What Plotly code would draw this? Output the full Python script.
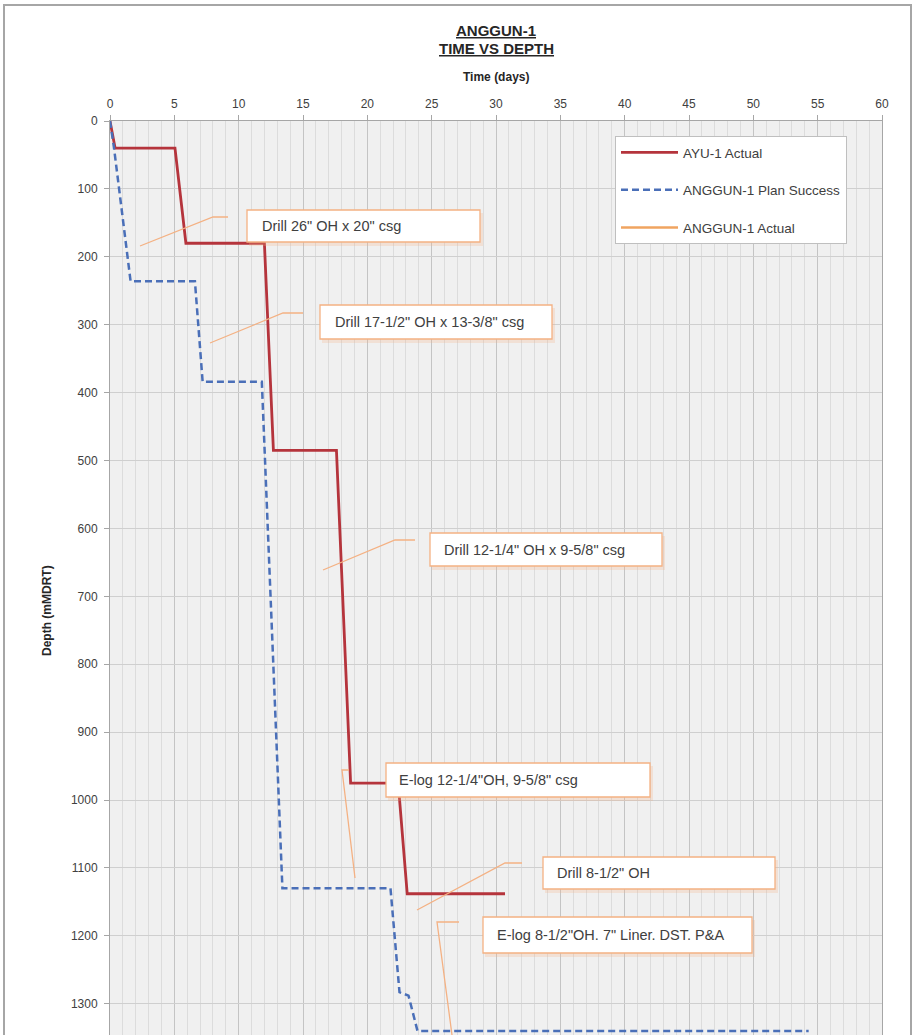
import plotly.graph_objects as go

# ---------------- data ----------------
ayu_days = [0, 0.4, 5.05, 5.9, 12.0, 12.7, 17.6, 18.7, 22.4, 23.1, 30.7]
ayu_depth = [0, 40, 40, 180, 180, 485, 485, 975, 975, 1138, 1138]

plan_days = [0, 0.3, 1.6, 6.6, 7.2, 11.8, 13.4, 21.8, 22.5, 23.2, 23.9, 54.3]
plan_depth = [0, 38, 236, 236, 384, 384, 1130, 1130, 1283, 1288, 1340, 1340]

anggun_days = [None]
anggun_depth = [None]

series_names = ["AYU-1 Actual", "ANGGUN-1 Plan Success", "ANGGUN-1 Actual"]
x_ticks = list(range(0, 61, 5))
y_ticks = list(range(0, 1301, 100))
callout_texts = [
    "Drill 26\" OH x 20\" csg",
    "Drill 17-1/2\" OH x 13-3/8\" csg",
    "Drill 12-1/4\" OH x 9-5/8\" csg",
    "E-log 12-1/4\"OH, 9-5/8\" csg",
    "Drill 8-1/2\" OH",
    "E-log 8-1/2\"OH. 7\" Liner. DST. P&A",
]

# ---------------- layout geometry ----------------
W, H = 915, 1035
L, R, T, B = 110, 33, 121, 0
X_RANGE = [0, 60]
Y_MAX = 1346
PW, PH = W - L - R, H - T - B
FONT = "Liberation Sans, Arial, sans-serif"
TXT = "#404040"


def dx(px):
    return X_RANGE[0] + (px - L) / PW * (X_RANGE[1] - X_RANGE[0])


def dy(py):
    return (py - T) / PH * Y_MAX


def paper_x(px):
    return (px - L) / PW


def paper_y(py):
    return (H - B - py) / PH


# callout boxes in pixel positions: box, text start x, leader polyline
callouts = [
    ((247, 210, 480, 242), 260, [(140, 246), (213, 217), (228, 217)]),
    ((320, 305, 552, 339), 333, [(210, 343), (283, 313), (303, 313)]),
    ((430, 533, 662, 566), 442, [(323, 570), (395, 540), (415, 540)]),
    ((386, 763, 650, 797), 397, [(349, 770), (342, 770), (355, 878)]),
    ((543, 857, 775, 889), 555, [(417, 910), (505, 863), (522, 863)]),
    ((483, 917, 752, 953), 495, [(459, 922), (437, 922), (452, 1035)]),
]

fig = go.Figure()
fig.add_trace(go.Scatter(
    x=ayu_days, y=ayu_depth, mode="lines", name=series_names[0],
    line=dict(color="#b5343c", width=2.8), legendgroup="a",
))
fig.add_trace(go.Scatter(
    x=plan_days, y=plan_depth, mode="lines", name=series_names[1],
    line=dict(color="#4a6fb8", width=2.5, dash="7px,4px"), legendgroup="b",
))
fig.add_trace(go.Scatter(
    x=anggun_days, y=anggun_depth, mode="lines", name=series_names[2],
    line=dict(color="#f0a460", width=2.5), legendgroup="c",
))

shapes = []
annotations = []
for (x0, y0, x1, y1), tx, leader in callouts:
    path = "M " + " L ".join(f"{dx(px)},{dy(py)}" for px, py in leader)
    shapes.append(dict(type="path", path=path, xref="x", yref="y",
                       line=dict(color="#f4b183", width=1.3), layer="above"))
for (x0, y0, x1, y1), tx, leader in callouts:
    shapes.append(dict(type="rect", xref="x", yref="y",
                       x0=dx(x0 + 2), x1=dx(x1 + 3), y0=dy(y0 + 3), y1=dy(y1 + 4),
                       fillcolor="rgba(244,177,131,0.25)", line=dict(width=0), layer="above"))
    shapes.append(dict(type="rect", xref="x", yref="y",
                       x0=dx(x0), x1=dx(x1), y0=dy(y0), y1=dy(y1),
                       fillcolor="white", line=dict(color="#f4b183", width=1.3), layer="above"))
for ((x0, y0, x1, y1), tx, leader), text in zip(callouts, callout_texts):
    annotations.append(dict(
        x=dx(tx), y=dy((y0 + y1) / 2), xref="x", yref="y", text=text,
        showarrow=False, xanchor="left", yanchor="middle",
        font=dict(family=FONT, size=14.5, color=TXT),
    ))

# outer chart frame
shapes.append(dict(type="rect", xref="paper", yref="paper",
                   x0=paper_x(4), x1=paper_x(911), y0=paper_y(1040), y1=paper_y(5),
                   line=dict(color="#a6a6a6", width=2), fillcolor="rgba(0,0,0,0)", layer="below"))

title_font = dict(family=FONT, size=15, color="#262626")
annotations += [
    dict(x=0.5, y=paper_y(31), xref="paper", yref="paper", showarrow=False,
         xanchor="center", yanchor="middle",
         text="<b><u>ANGGUN-1</u></b>", font=title_font),
    dict(x=0.5, y=paper_y(48), xref="paper", yref="paper", showarrow=False,
         xanchor="center", yanchor="middle",
         text="<b><u>TIME VS DEPTH</u></b>", font=title_font),
    dict(x=0.5, y=paper_y(77), xref="paper", yref="paper", showarrow=False,
         xanchor="center", yanchor="middle",
         text="<b>Time (days)</b>", font=dict(family=FONT, size=12, color="#262626")),
    dict(x=paper_x(47), y=paper_y(611), xref="paper", yref="paper", showarrow=False,
         xanchor="center", yanchor="middle",
         text="<b>Depth (mMDRT)</b>", textangle=-90,
         font=dict(family=FONT, size=12, color="#262626")),
]

fig.update_layout(
    width=W, height=H,
    margin=dict(l=L, r=R, t=T, b=B, autoexpand=False),
    paper_bgcolor="white", plot_bgcolor="#f0f0f0",
    font=dict(family=FONT, size=13, color=TXT),
    shapes=shapes, annotations=annotations,
    showlegend=True,
    legend=dict(
        x=paper_x(615), y=paper_y(136), xanchor="left", yanchor="top",
        bgcolor="white", bordercolor="#bfbfbf", borderwidth=1,
        font=dict(family=FONT, size=13.5, color=TXT),
        tracegroupgap=17, itemwidth=57, traceorder="grouped",
    ),
    xaxis=dict(
        side="top", range=X_RANGE, tickvals=x_ticks, ticks="outside", ticklen=5,
        tickcolor="#a6a6a6", showline=True, linecolor="#a6a6a6", mirror=True,
        showgrid=True, gridcolor="#c4c4c4", gridwidth=1, zeroline=False,
        minor=dict(dtick=1, showgrid=True, gridcolor="#dcdcdc", ticks=""),
        tickfont=dict(family=FONT, size=12, color=TXT), fixedrange=True,
        ticklabelstandoff=2,
    ),
    yaxis=dict(
        range=[Y_MAX, 0], tickvals=y_ticks, ticks="outside", ticklen=5,
        tickcolor="#a6a6a6", showline=True, linecolor="#a6a6a6", mirror=True,
        showgrid=True, gridcolor="#cfcfcf", gridwidth=1, zeroline=False,
        tickfont=dict(family=FONT, size=12, color=TXT), fixedrange=True,
        ticklabelstandoff=4,
    ),
)

fig.write_html(
    "out.html",
    config={"displayModeBar": False},
    post_script="document.body.style.margin='0';document.body.style.overflow='hidden';",
)
